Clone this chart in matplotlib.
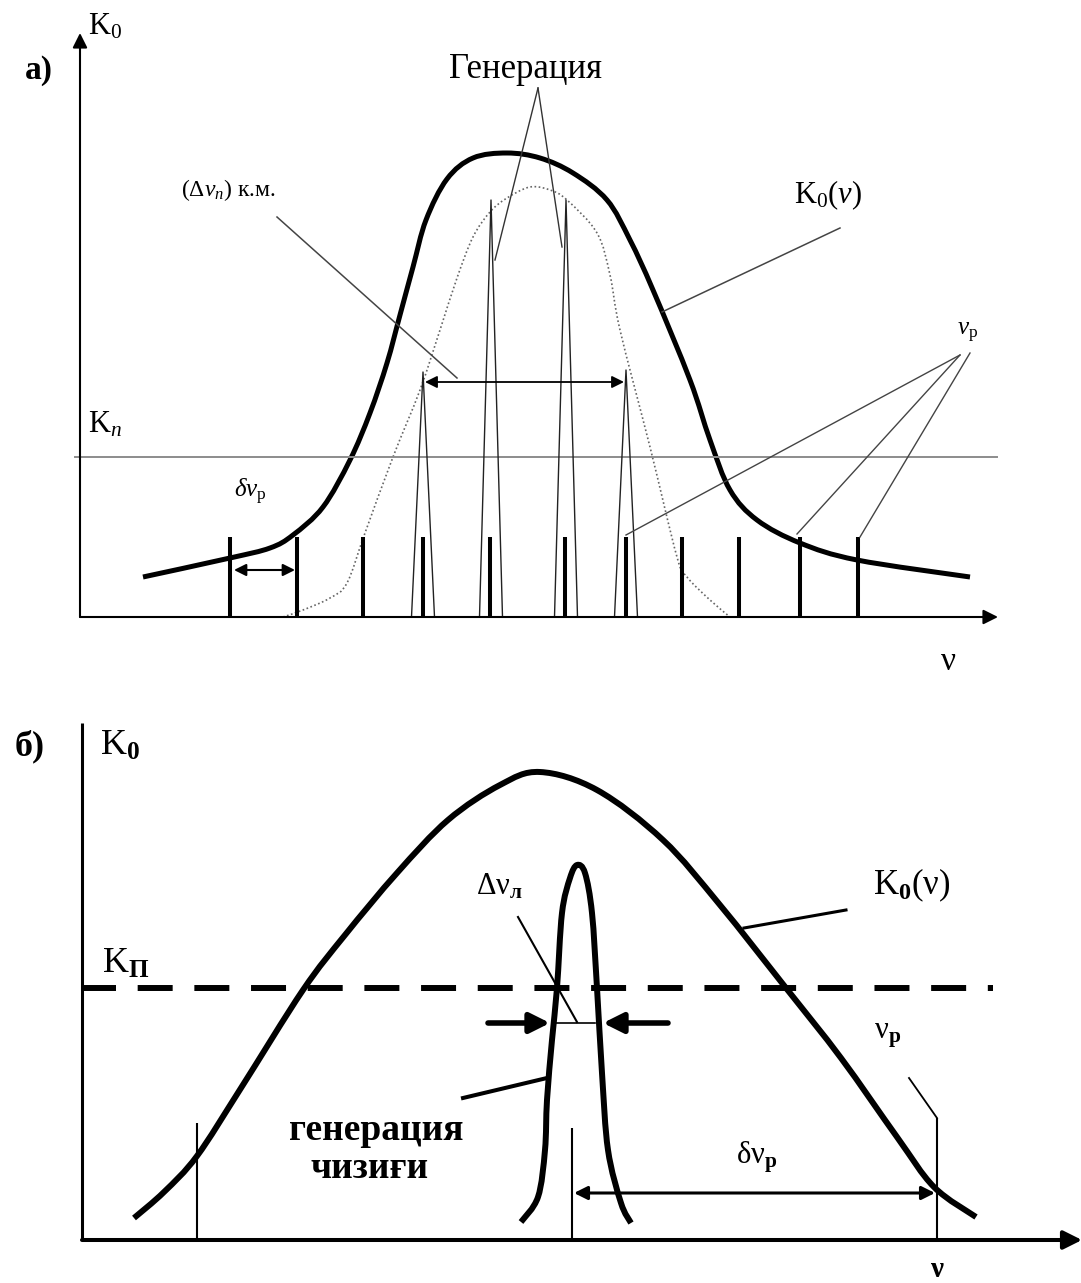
import numpy as np
import matplotlib.pyplot as plt
from matplotlib.path import Path
from matplotlib.patches import PathPatch

plt.rcParams['font.family'] = ['Liberation Serif', 'DejaVu Serif']
plt.rcParams['mathtext.fontset'] = 'custom'
plt.rcParams['mathtext.rm'] = 'Liberation Serif'
plt.rcParams['mathtext.it'] = 'Liberation Serif:italic'
plt.rcParams['mathtext.bf'] = 'Liberation Serif:bold'

# --- a) multimode generation (arbitrary units: nu along axis, K up)
nu_gain_a = [63, 150, 190, 213, 243, 270, 290, 307, 320, 333, 346, 367, 393,
             427, 460, 493, 527, 550, 573, 610, 630, 650, 677, 720, 777, 890]
k_gain_a = [40, 59, 69, 82, 110, 157, 204, 254, 302, 350, 397, 438, 459,
            464, 459, 444, 417, 377, 327, 237, 177, 127, 97, 74, 57, 40]

nu_env_a = [203, 223, 250, 267, 285, 313, 340, 360, 377, 393, 410, 427, 450,
            470, 487, 517, 530, 540, 570, 597, 607, 630, 650]
k_env_a = [0, 7, 19, 34, 84, 160, 227, 287, 339, 380, 405, 419, 430,
           427, 417, 384, 342, 287, 170, 60, 40, 17, 0]

modes_a = [150, 217, 283, 343, 410, 485, 546, 602, 659, 720, 778]
mode_height_a = 80

gen_centers_a = [343, 411, 486, 546]
gen_heights_a = [245, 417, 417, 247]
gen_half_width_a = 11.5

k_threshold_a = 160

# --- б) single-mode generation
nu_gain_b = [52, 82, 115, 159, 221, 263, 315, 366, 418, 458, 515, 581, 638,
             704, 759, 815, 852, 894]
k_gain_b = [22, 48, 84, 152, 250, 305, 367, 420, 455, 468, 450, 400, 335,
            252, 182, 103, 53, 23]

nu_line_b = [439, 456, 463, 465, 470, 475, 480, 488, 495, 503, 510, 515,
             520, 526, 539, 549]
k_line_b = [18, 43, 90, 140, 200, 252, 327, 362, 375, 367, 327, 252,
            167, 90, 37, 17]

modes_b = [115, 490, 855]
mode_tops_b = [117, 112, 122]
k_threshold_b = 252
k_linewidth_b = 217


def arrow(ax, start, end, style='-|>', lw=1.5, scale=20, color='k'):
    ax.annotate('', xy=end, xytext=start, annotation_clip=False,
                arrowprops=dict(arrowstyle=style, lw=lw, color=color,
                                mutation_scale=scale, shrinkA=0, shrinkB=0))


def smooth_curve(ax, xs, ys, **kw):
    # Catmull-Rom through the points, drawn as cubic Bezier segments
    pts = np.column_stack([xs, ys]).astype(float)
    verts = [pts[0]]
    codes = [Path.MOVETO]
    n = len(pts)
    for i in range(n - 1):
        p0 = pts[i - 1] if i > 0 else pts[i]
        p1, p2 = pts[i], pts[i + 1]
        p3 = pts[i + 2] if i + 2 < n else pts[i + 1]
        verts += [p1 + (p2 - p0) / 6, p2 - (p3 - p1) / 6, p2]
        codes += [Path.CURVE4] * 3
    ax.add_patch(PathPatch(Path(verts, codes), fill=False,
                           joinstyle='round', capstyle='butt', **kw))


fig = plt.figure(figsize=(10.81, 12.83), dpi=100)

# panel a
ax = fig.add_axes([0, 593 / 1283, 1, 690 / 1283])
ax.set_xlim(-80, 1001)
ax.set_ylim(-73, 617)
ax.axis('off')

arrow(ax, (0, 0), (0, 584), lw=1.5, scale=22)
arrow(ax, (0, 0), (918, 0), lw=1.5, scale=22)
ax.plot([-5, 917], [k_threshold_a, k_threshold_a], color='#8c8c8c', lw=1.4)

smooth_curve(ax, nu_env_a, k_env_a, edgecolor='#666666', lw=1.2,
             linestyle=(0, (1, 1.5)))
smooth_curve(ax, nu_gain_a, k_gain_a, edgecolor='k', lw=3.6)
ax.vlines(modes_a, 0, mode_height_a, colors='k', lw=2.9)

for c, h in zip(gen_centers_a, gen_heights_a):
    ax.plot([c - gen_half_width_a, c, c + gen_half_width_a], [0, h, 0],
            color='#222222', lw=1.0)

# leaders for "Генерация"
ax.plot([458, 415], [529, 357], color='#333333', lw=1.0)
ax.plot([458, 482], [529, 370], color='#333333', lw=1.0)
ax.text(445, 548, 'Генерация', fontsize=25, ha='center', va='center')

ax.text(148, 427, r'$(\Delta\nu_{п})$ к.м.', fontsize=17,
        ha='center', va='center')
ax.plot([197, 377], [400, 239], color='#444444', lw=1.1)
arrow(ax, (gen_centers_a[0] + 2, 235), (gen_centers_a[-1] - 2, 235),
      style='<|-|>', lw=1.3, scale=18)

ax.text(748, 422, r'$\mathrm{K}_0(\nu)$', fontsize=22,
        ha='center', va='center')
ax.plot([760, 582], [389, 305], color='#444444', lw=1.1)

ax.text(888, 284, r'$\nu_{\mathrm{р}}$', fontsize=18, ha='center', va='center')
ax.plot([880, modes_a[6]], [262, 82], color='#444444', lw=1.0)
ax.plot([880, modes_a[9] - 3], [262, 83], color='#444444', lw=1.0)
ax.plot([890, modes_a[10] + 2], [264, 80], color='#444444', lw=1.0)

ax.text(170, 125, r'$\delta\nu_{\mathrm{р}}$', fontsize=18,
        ha='center', va='center')
arrow(ax, (modes_a[0] + 4, 47), (modes_a[1] - 2, 47), style='<|-|>',
      lw=1.5, scale=18)

ax.text(8, 192, r'$\mathrm{K}_{п}$', fontsize=22, ha='left', va='center')
ax.text(8, 590, r'$\mathrm{K}_0$', fontsize=22, ha='left', va='center')
ax.text(-41, 546, 'а)', fontsize=24, fontweight='bold',
        ha='center', va='center')
ax.text(868, -45, 'ν', fontsize=24, ha='center', va='center')

# panel b
bx = fig.add_axes([0, 0, 1, 593 / 1283])
bx.set_xlim(-82, 999)
bx.set_ylim(-43, 550)
bx.axis('off')

bx.plot([0, 0], [0, 517], color='k', lw=2.2, solid_capstyle='butt')
arrow(bx, (0, 0), (1000, 0), lw=2.9, scale=28)
bx.plot([-1, 911], [k_threshold_b, k_threshold_b], color='k', lw=4.3,
        ls=(0, (5.86, 3.63)))

smooth_curve(bx, nu_gain_b, k_gain_b, edgecolor='k', lw=4.3)
smooth_curve(bx, nu_line_b, k_line_b, edgecolor='k', lw=4.3)
bx.vlines(modes_b, 0, mode_tops_b, colors='k', lw=1.5)

# line width marker
bx.plot([470, 513], [k_linewidth_b, k_linewidth_b], color='k', lw=1.2)
arrow(bx, (406, k_linewidth_b), (468, k_linewidth_b), lw=4, scale=30)
arrow(bx, (586, k_linewidth_b), (521, k_linewidth_b), lw=4, scale=30)
bx.plot([436, 495], [323, 218], color='k', lw=1.5)
bx.text(418, 353, r'$\Delta\mathrm{ν}_{\mathbf{л}}$', fontsize=22,
        ha='center', va='center')

bx.plot([381, 465], [142, 162], color='k', lw=2.9)
bx.text(294, 109, 'генерация', fontsize=27, fontweight='bold',
        ha='center', va='center')
bx.text(288, 71, 'чизиғи', fontsize=27, fontweight='bold',
        ha='center', va='center')

bx.plot([827, modes_b[2]], [162, mode_tops_b[2]], color='k', lw=1.3)
bx.text(806, 204, r'$\mathrm{ν}_{\mathbf{р}}$', fontsize=22,
        ha='center', va='center')

arrow(bx, (modes_b[1] + 2, 47), (modes_b[2] - 2, 47), style='<|-|>',
      lw=2.2, scale=20)
bx.text(675, 83, r'$\mathrm{δν}_{\mathbf{р}}$', fontsize=22,
        ha='center', va='center')

bx.plot([764, 662], [330, 312], color='k', lw=2.2)
bx.text(830, 355, r'$\mathrm{K}_{\mathbf{0}}(\mathrm{ν})$', fontsize=25,
        ha='center', va='center')

bx.text(18, 494, r'$\mathrm{K}_{\mathbf{0}}$', fontsize=26,
        ha='left', va='center')
bx.text(20, 276, r'$\mathrm{K}_{\mathbf{П}}$', fontsize=26,
        ha='left', va='center')
bx.text(-52, 494, 'б)', fontsize=26, fontweight='bold',
        ha='center', va='center')
bx.text(855, -16, 'ν', fontsize=21, fontweight='bold',
        ha='center', va='top')

fig.savefig('out.png', dpi=100)
